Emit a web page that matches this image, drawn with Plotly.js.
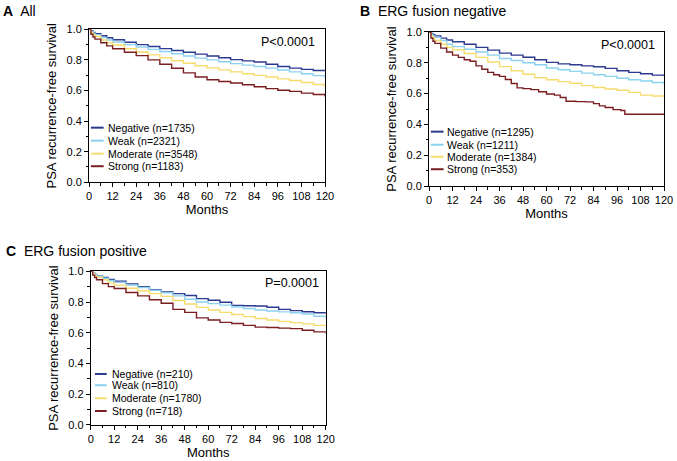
<!DOCTYPE html>
<html>
<head>
<meta charset="utf-8">
<script src="https://cdn.plot.ly/plotly-3.0.1.min.js"></script>
<style>html,body{margin:0;padding:0;background:#fff;}#chart{width:677px;height:461px;}</style>
</head>
<body>
<div id="chart"></div>
<script>
// ---- data ----
const groups = ['Negative', 'Weak', 'Moderate', 'Strong'];
const nA = [1735, 2321, 3548, 1183];
const nB = [1295, 1211, 1384, 353];
const nC = [210, 810, 1780, 718];
const panelLetters = ['A', 'B', 'C'];
const panelTitles = ['All', 'ERG fusion negative', 'ERG fusion positive'];
const pValues = ['P<0.0001', 'P<0.0001', 'P=0.0001'];
const monthTicks = [0, 12, 24, 36, 48, 60, 72, 84, 96, 108, 120];

const months = [0, 1, 2, 3, 6, 9, 12, 18, 24, 30, 36, 42, 48, 54, 60, 66, 72, 78, 84, 90, 96, 102, 108, 114, 120];

const negA  = [1, 0.99, 0.98, 0.972, 0.958, 0.945, 0.932, 0.915, 0.900, 0.888, 0.874, 0.862, 0.850, 0.838, 0.826, 0.814, 0.802, 0.794, 0.786, 0.772, 0.757, 0.746, 0.738, 0.731, 0.726];
const weakA = [1, 0.985, 0.975, 0.965, 0.946, 0.930, 0.917, 0.900, 0.884, 0.869, 0.855, 0.840, 0.826, 0.812, 0.800, 0.788, 0.776, 0.766, 0.757, 0.746, 0.734, 0.722, 0.710, 0.697, 0.682];
const modA  = [1, 0.980, 0.966, 0.955, 0.930, 0.912, 0.897, 0.873, 0.852, 0.833, 0.814, 0.795, 0.778, 0.762, 0.748, 0.735, 0.722, 0.710, 0.699, 0.688, 0.676, 0.665, 0.652, 0.639, 0.622];
const strA  = [1, 0.968, 0.950, 0.936, 0.912, 0.892, 0.873, 0.850, 0.828, 0.800, 0.772, 0.745, 0.715, 0.688, 0.670, 0.659, 0.649, 0.638, 0.625, 0.612, 0.602, 0.594, 0.583, 0.574, 0.561];

const negB  = [1, 0.990, 0.982, 0.975, 0.960, 0.948, 0.937, 0.920, 0.900, 0.882, 0.863, 0.850, 0.836, 0.820, 0.803, 0.793, 0.787, 0.780, 0.774, 0.764, 0.748, 0.738, 0.729, 0.720, 0.714];
const weakB = [1, 0.985, 0.975, 0.965, 0.945, 0.920, 0.905, 0.888, 0.870, 0.850, 0.828, 0.815, 0.800, 0.787, 0.766, 0.755, 0.744, 0.733, 0.722, 0.712, 0.700, 0.690, 0.682, 0.672, 0.662];
const modB  = [1, 0.975, 0.960, 0.945, 0.920, 0.900, 0.885, 0.860, 0.835, 0.805, 0.775, 0.748, 0.726, 0.703, 0.690, 0.678, 0.667, 0.652, 0.640, 0.630, 0.622, 0.608, 0.590, 0.584, 0.584];
const monthsStrB = [0, 1, 2, 3, 6, 9, 12, 15, 18, 21, 24, 27, 30, 33, 36, 39, 42, 45, 48, 52, 56, 60, 64, 67, 70, 75, 80, 84, 87, 90, 94, 98, 100, 120];
const strB  = [1, 0.960, 0.940, 0.926, 0.895, 0.870, 0.850, 0.835, 0.820, 0.810, 0.780, 0.758, 0.738, 0.722, 0.712, 0.692, 0.666, 0.637, 0.632, 0.626, 0.612, 0.597, 0.590, 0.575, 0.550, 0.548, 0.546, 0.535, 0.520, 0.510, 0.496, 0.490, 0.466, 0.466];

const negC  = [1, 0.990, 0.980, 0.972, 0.960, 0.947, 0.936, 0.918, 0.900, 0.880, 0.866, 0.855, 0.843, 0.822, 0.812, 0.799, 0.778, 0.776, 0.774, 0.766, 0.752, 0.744, 0.737, 0.730, 0.722];
const weakC = [1, 0.990, 0.980, 0.970, 0.955, 0.940, 0.928, 0.910, 0.895, 0.877, 0.860, 0.840, 0.818, 0.800, 0.790, 0.780, 0.768, 0.758, 0.748, 0.742, 0.736, 0.730, 0.722, 0.708, 0.694];
const modC  = [1, 0.985, 0.972, 0.962, 0.945, 0.925, 0.910, 0.890, 0.873, 0.855, 0.837, 0.810, 0.787, 0.765, 0.748, 0.733, 0.719, 0.705, 0.693, 0.683, 0.674, 0.666, 0.658, 0.648, 0.638];
const strC  = [1, 0.975, 0.960, 0.945, 0.920, 0.900, 0.888, 0.862, 0.840, 0.815, 0.792, 0.752, 0.733, 0.697, 0.683, 0.668, 0.660, 0.648, 0.637, 0.634, 0.630, 0.627, 0.616, 0.606, 0.597];

// ---- styling / layout config ----
const colors = ['#2b398e', '#8cd2f0', '#f6dc6c', '#7b1e22'];
const FONT = 'Liberation Sans, Arial, Helvetica, sans-serif';

const panels = [
  { sfx: '', ns: nA, xs: [months, months, months, months], ys: [negA, weakA, modA, strA],
    xdom: [0.1315, 0.4801], ydom: [0.6046, 0.9364],
    legRows: [0.357, 0.272, 0.187, 0.105], legX: [0.008, 0.062, 0.072],
    pPos: [0.968, 0.917], label: [0.0015, 0.9768] },
  { sfx: '2', ns: nB, xs: [months, months, months, monthsStrB], ys: [negB, weakB, modB, strB],
    xdom: [0.6337, 0.9808], ydom: [0.5965, 0.9306],
    legRows: [0.353, 0.268, 0.19, 0.109], legX: [0.008, 0.062, 0.069],
    pPos: [0.972, 0.916], label: [0.5283, 0.9768] },
  { sfx: '3', ns: nC, xs: [months, months, months, months], ys: [negC, weakC, modC, strC],
    xdom: [0.134, 0.4811], ydom: [0.0781, 0.4115],
    legRows: [0.332, 0.259, 0.174, 0.091], legX: [0.018, 0.068, 0.081],
    pPos: [0.978, 0.926], label: [0.0059, 0.4562] }
];

const traces = [];
const shapes = [];
const annotations = [];
const layout = {
  width: 677, height: 461,
  margin: { l: 0, r: 0, t: 0, b: 0 },
  paper_bgcolor: '#ffffff', plot_bgcolor: '#ffffff',
  font: { family: FONT, color: '#000', size: 11 },
  showlegend: false
};

panels.forEach((p, pi) => {
  const xa = 'x' + p.sfx, ya = 'y' + p.sfx;
  for (let i = 0; i < 4; i++) {
    traces.push({
      type: 'scatter', mode: 'lines',
      x: p.xs[i], y: p.ys[i],
      xaxis: xa, yaxis: ya,
      name: groups[i] + ' (n=' + p.ns[i] + ')',
      line: { color: colors[i], width: 1.4, shape: 'hv' },
      hoverinfo: 'x+y+name'
    });
    // legend sample + text
    shapes.push({
      type: 'line', xref: xa + ' domain', yref: ya + ' domain',
      x0: p.legX[0], x1: p.legX[1], y0: p.legRows[i], y1: p.legRows[i],
      line: { color: colors[i], width: 2 }
    });
    annotations.push({
      xref: xa + ' domain', yref: ya + ' domain',
      x: p.legX[2], y: p.legRows[i], xanchor: 'left', yanchor: 'middle',
      text: groups[i] + ' (n=' + p.ns[i] + ')', showarrow: false,
      font: { family: FONT, size: 10.5, color: '#000' }
    });
  }
  annotations.push({
    xref: xa + ' domain', yref: ya + ' domain',
    x: p.pPos[0], y: p.pPos[1], xanchor: 'right', yanchor: 'middle',
    text: pValues[pi], showarrow: false,
    font: { family: FONT, size: 12.5, color: '#000' }
  });
  annotations.push({
    xref: 'paper', yref: 'paper', x: p.label[0], y: p.label[1],
    xanchor: 'left', yanchor: 'middle', showarrow: false,
    text: '<b>' + panelLetters[pi] + '</b>  ' + panelTitles[pi],
    font: { family: FONT, size: 14, color: '#000' }
  });

  const axBase = {
    showgrid: false, zeroline: false, showline: true, linecolor: '#000', linewidth: 1,
    mirror: true, ticks: 'outside', ticklen: 4, tickwidth: 1, tickcolor: '#000',
    tickfont: { family: FONT, size: 11, color: '#000' }, fixedrange: true
  };
  layout['xaxis' + p.sfx] = Object.assign({}, axBase, {
    domain: p.xdom, anchor: ya, range: [0, 120],
    tickmode: 'array', tickvals: monthTicks, ticktext: monthTicks.map(String),
    minor: { dtick: 6, tick0: 0, ticks: 'outside', ticklen: 2.5, tickcolor: '#000', tickwidth: 1 },
    title: { text: 'Months', font: { family: FONT, size: 13, color: '#000' }, standoff: 3 }
  });
  layout['yaxis' + p.sfx] = Object.assign({}, axBase, {
    domain: p.ydom, anchor: xa, range: [0, 1],
    dtick: 0.2, tick0: 0, tickformat: '.1f',
    minor: { dtick: 0.1, tick0: 0, ticks: 'outside', ticklen: 2.5, tickcolor: '#000', tickwidth: 1 },
    title: { text: 'PSA recurrence-free survival', font: { family: FONT, size: 13, color: '#000' }, standoff: 6 }
  });
});

layout.shapes = shapes;
layout.annotations = annotations;

Plotly.newPlot('chart', traces, layout, { displayModeBar: false, staticPlot: true });
</script>
</body>
</html>
